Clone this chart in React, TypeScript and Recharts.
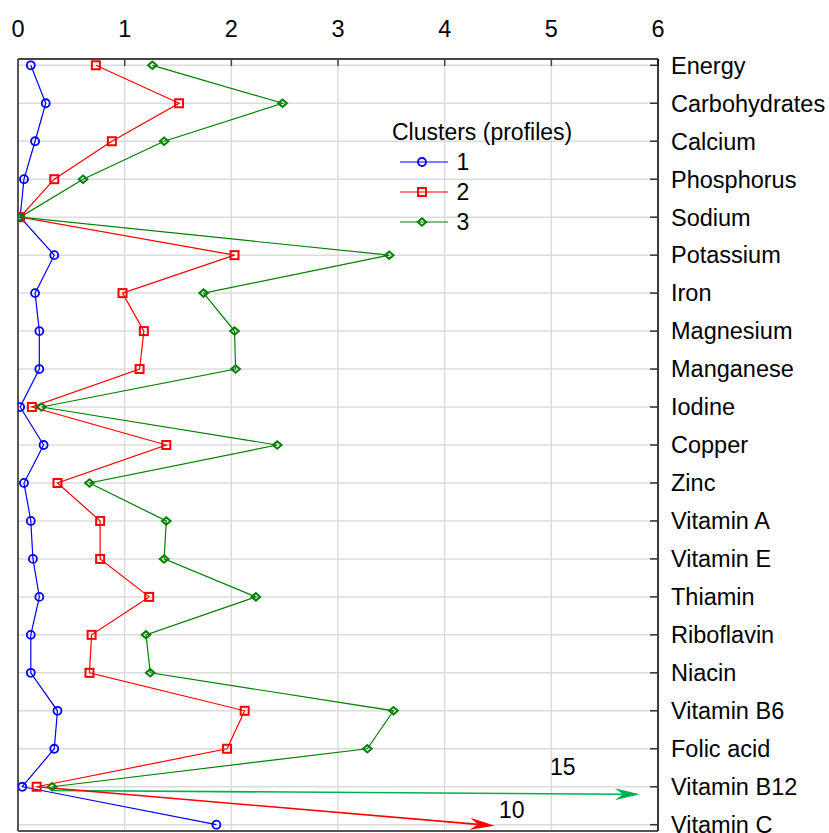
import React from 'react';
import {
  ComposedChart,
  Line,
  XAxis,
  YAxis,
  CartesianGrid,
  ReferenceLine,
  ReferenceDot,
  Legend,
} from 'recharts';

// ---------- data ----------
const nutrients = [
  'Energy', 'Carbohydrates', 'Calcium', 'Phosphorus', 'Sodium', 'Potassium',
  'Iron', 'Magnesium', 'Manganese', 'Iodine', 'Copper', 'Zinc', 'Vitamin A',
  'Vitamin E', 'Thiamin', 'Riboflavin', 'Niacin', 'Vitamin B6', 'Folic acid',
  'Vitamin B12', 'Vitamin C',
];
const cluster1 = [0.12, 0.26, 0.16, 0.056, 0.02, 0.34, 0.16, 0.2, 0.2, 0.02, 0.24, 0.056, 0.12, 0.14, 0.2, 0.12, 0.12, 0.37, 0.34, 0.04, 1.86];
const cluster2 = [0.73, 1.51, 0.88, 0.34, 0.02, 2.03, 0.98, 1.18, 1.14, 0.13, 1.39, 0.37, 0.77, 0.77, 1.23, 0.69, 0.67, 2.125, 1.96, 0.175, 10];
const cluster3 = [1.26, 2.48, 1.37, 0.61, 0.02, 3.48, 1.74, 2.03, 2.04, 0.22, 2.43, 0.67, 1.39, 1.37, 2.23, 1.2, 1.24, 3.52, 3.275, 0.32, 15];
const clusterLabels = ['1', '2', '3'];
const xTicks = [0, 1, 2, 3, 4, 5, 6];
const legendTitle = 'Clusters (profiles)';

// ---------- chart config ----------
const X_MAX = 6;
const FONT = '"Liberation Sans", Arial, sans-serif';
const rowTicks = nutrients.map((_, i) => i);
const Y_DOMAIN: [number, number] = [-0.166, nutrients.length - 1 + 0.166];

const clip = (v: number) => (v <= X_MAX ? v : null);
const data = nutrients.map((name, i) => ({
  idx: i,
  name,
  c1: clip(cluster1[i]),
  c2: clip(cluster2[i]),
  c3: clip(cluster3[i]),
}));

const series = [
  { key: 'c1', label: clusterLabels[0], color: '#0000ff', marker: 'circle' },
  { key: 'c2', label: clusterLabels[1], color: '#ff0000', marker: 'square' },
  { key: 'c3', label: clusterLabels[2], color: '#008000', marker: 'diamond' },
];

function Marker({ kind, cx, cy, color }: { kind: string; cx: number; cy: number; color: string }) {
  if (kind === 'circle') {
    return <circle cx={cx} cy={cy} r={4} fill="none" stroke={color} strokeWidth={1.8} />;
  }
  if (kind === 'square') {
    return <rect x={cx - 4} y={cy - 4} width={8} height={8} fill="none" stroke={color} strokeWidth={2} />;
  }
  return (
    <path
      d={`M${cx - 4.3},${cy}L${cx},${cy - 3.7}L${cx + 4.3},${cy}L${cx},${cy + 3.7}Z`}
      fill="none"
      stroke={color}
      strokeWidth={2}
    />
  );
}

const makeDot = (kind: string, color: string) => (p: any) => {
  if (p.cx == null || p.cy == null || p.value == null || isNaN(p.cx) || isNaN(p.cy)) {
    return <g key={p.key ?? p.index} />;
  }
  return (
    <g key={p.key ?? p.index}>
      <Marker kind={kind} cx={p.cx} cy={p.cy} color={color} />
    </g>
  );
};

const makeArrow = (color: string) => (props: any) => {
  const { x1, y1, x2, y2 } = props;
  if ([x1, y1, x2, y2].some((v) => v == null || isNaN(v))) return <g />;
  const ang = Math.atan2(y2 - y1, x2 - x1);
  const L = 25;
  const W = 6;
  const N = 17;
  const rot = (a: number, b: number) => [
    x2 + a * Math.cos(ang) - b * Math.sin(ang),
    y2 + a * Math.sin(ang) + b * Math.cos(ang),
  ];
  const pts = [[0, 0], [-L, -W], [-N, 0], [-L, W]].map(([a, b]) => rot(a, b));
  const end = rot(-N, 0);
  return (
    <g>
      <line x1={x1} y1={y1} x2={end[0]} y2={end[1]} stroke={color} strokeWidth={1.6} />
      <path d={'M' + pts.map((p) => p.join(',')).join('L') + 'Z'} fill={color} />
    </g>
  );
};

const renderLegend = () => (
  <div style={{ fontFamily: FONT, fontSize: 23, color: '#000', lineHeight: '30px' }}>
    <div style={{ height: 30, whiteSpace: 'nowrap' }}>{legendTitle}</div>
    {series.map((s) => (
      <div key={s.key} style={{ height: 30, display: 'flex', alignItems: 'center' }}>
        <svg width={64.5} height={30} style={{ display: 'block' }}>
          <line x1={8} x2={56} y1={15} y2={15} stroke={s.color} strokeWidth={1.2} />
          <Marker kind={s.marker} cx={30} cy={15} color={s.color} />
        </svg>
        <span>{s.label}</span>
      </div>
    ))}
  </div>
);

const tickFont = { fill: '#000', fontSize: 23.5, fontFamily: FONT };

export default function App() {
  return (
    <div style={{ position: 'absolute', left: 0, top: 0, width: 829, height: 833, background: '#fff' }}>
      <ComposedChart
        width={829}
        height={833}
        data={data}
        layout="vertical"
        margin={{ top: 0, right: 0, bottom: 0, left: 0 }}
      >
        <CartesianGrid stroke="#dcdcdc" strokeWidth={1.5} />
        <XAxis
          xAxisId={0}
          type="number"
          orientation="top"
          domain={[0, X_MAX]}
          ticks={xTicks}
          interval={0}
          height={59}
          tickSize={-7}
          tickMargin={29}
          allowDataOverflow
          axisLine={{ stroke: '#444', strokeWidth: 2 }}
          tickLine={{ stroke: '#444', strokeWidth: 1.5 }}
          tick={tickFont}
        />
        <XAxis
          xAxisId="b"
          type="number"
          orientation="bottom"
          domain={[0, X_MAX]}
          ticks={xTicks}
          interval={0}
          height={2}
          tickSize={-7}
          tick={false}
          allowDataOverflow
          axisLine={{ stroke: '#555', strokeWidth: 2 }}
          tickLine={{ stroke: '#555', strokeWidth: 1.5 }}
        />
        <YAxis
          yAxisId={0}
          type="number"
          dataKey="idx"
          orientation="right"
          domain={Y_DOMAIN}
          ticks={rowTicks}
          interval={0}
          width={171}
          tickSize={-8}
          tickMargin={21}
          allowDataOverflow
          tickFormatter={(v: number) => nutrients[v] ?? ''}
          axisLine={{ stroke: '#000', strokeWidth: 1.5 }}
          tickLine={{ stroke: '#333', strokeWidth: 1.5 }}
          tick={{ ...tickFont, textAnchor: 'start' }}
        />
        <YAxis
          yAxisId="l"
          type="number"
          dataKey="idx"
          orientation="left"
          domain={Y_DOMAIN}
          ticks={rowTicks}
          interval={0}
          width={18}
          tickSize={-8}
          tick={false}
          allowDataOverflow
          axisLine={{ stroke: '#555', strokeWidth: 2 }}
          tickLine={{ stroke: '#555', strokeWidth: 1.5 }}
        />
        {series.map((s) => (
          <Line
            key={s.key}
            dataKey={s.key}
            name={s.label}
            stroke={s.color}
            strokeWidth={1.2}
            dot={makeDot(s.marker, s.color)}
            activeDot={false}
            connectNulls={false}
            isAnimationActive={false}
          />
        ))}
        {/* off-scale Vitamin C values shown as arrows */}
        <ReferenceLine
          segment={[{ x: cluster3[19] + 0.01, y: 19.1 }, { x: 5.83, y: 19.2 }]}
          ifOverflow="visible"
          shape={makeArrow('#00b050')}
        />
        <ReferenceLine
          segment={[{ x: cluster2[19], y: 19 }, { x: 4.47, y: 20.03 }]}
          ifOverflow="visible"
          shape={makeArrow('#ff0000')}
        />
        <ReferenceDot
          x={5.107}
          y={18.48}
          r={0}
          fill="none"
          stroke="none"
          ifOverflow="visible"
          label={{ value: String(cluster3[20]), position: 'center', fill: '#000', fontSize: 23, fontFamily: FONT }}
        />
        <ReferenceDot
          x={4.63}
          y={19.61}
          r={0}
          fill="none"
          stroke="none"
          ifOverflow="visible"
          label={{ value: String(cluster2[20]), position: 'center', fill: '#000', fontSize: 23, fontFamily: FONT }}
        />
        <Legend
          layout="vertical"
          align="center"
          verticalAlign="middle"
          content={renderLegend}
          wrapperStyle={{ left: 392, top: 116.7, width: 220, height: 120 }}
        />
      </ComposedChart>
    </div>
  );
}
